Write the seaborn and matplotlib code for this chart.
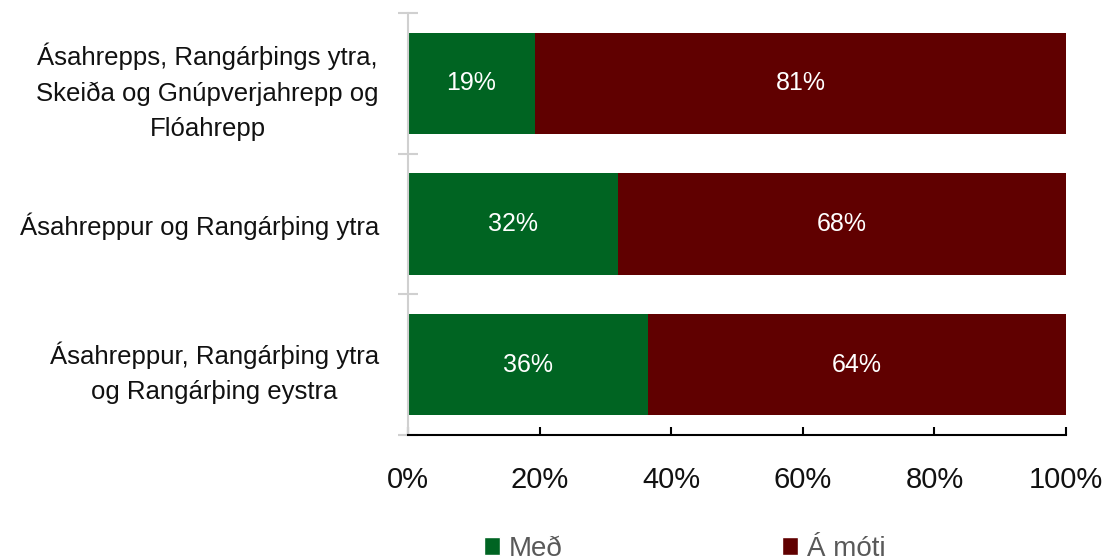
import matplotlib
matplotlib.use("Agg")
import matplotlib.pyplot as plt
import seaborn as sns
import pandas as pd
from matplotlib.ticker import FixedLocator, FuncFormatter
from matplotlib.patches import Patch

categories = [
    "Ásahrepps, Rangárþings ytra,\nSkeiða og Gnúpverjahrepp og\nFlóahrepp",
    "Ásahreppur og Rangárþing ytra",
    "Ásahreppur, Rangárþing ytra\nog Rangárþing eystra",
]
med = [19.3, 31.9, 36.4]
a_moti = [80.7, 68.1, 63.6]
med_labels = ["19%", "32%", "36%"]
moti_labels = ["81%", "68%", "64%"]
series_names = ["Með", "Á móti"]
x_ticks = [0, 20, 40, 60, 80, 100]

GREEN = "#006422"
RED = "#600000"

sns.set_theme(style="white")
plt.rcParams["font.family"] = ["Liberation Sans", "DejaVu Sans"]

df = pd.DataFrame({"cat": categories, "med": med, "moti": a_moti})
df["total"] = df["med"] + df["moti"]

fig = plt.figure(figsize=(11.04, 5.6), dpi=100)
ax = fig.add_axes([408 / 1104, 1 - 435 / 560, (1066 - 408) / 1104, (435 - 13) / 560])

sns.barplot(data=df, x="total", y="cat", orient="h", color=RED, width=0.72,
            saturation=1, ax=ax, linewidth=0)
sns.barplot(data=df, x="med", y="cat", orient="h", color=GREEN, width=0.72,
            saturation=1, ax=ax, linewidth=0)

for i in range(len(categories)):
    ax.text(med[i] / 2, i, med_labels[i], ha="center", va="center",
            color="white", fontsize=18)
    ax.text(med[i] + a_moti[i] / 2, i, moti_labels[i], ha="center", va="center",
            color="white", fontsize=18)

ax.set_xlim(0, 100)
ax.set_ylim(2.5, -0.5)
ax.set_xlabel("")
ax.set_ylabel("")
ax.xaxis.set_major_locator(FixedLocator(x_ticks))
ax.xaxis.set_major_formatter(FuncFormatter(lambda v, p: f"{int(v)}%"))
ax.tick_params(axis="x", bottom=True, direction="in", length=6, width=1.5,
               color="black", labelsize=21, pad=22, labelcolor="#111111")
ax.tick_params(axis="y", which="major", left=True, length=0, labelsize=18.5,
               pad=21, labelcolor="#111111")
ax.yaxis.set_minor_locator(FixedLocator([-0.5, 0.5, 1.5, 2.5]))
ax.tick_params(axis="y", which="minor", left=True, direction="inout", length=14,
               width=1.5, color="#d0d0d0")
for lbl in ax.get_yticklabels():
    lbl.set_ha("right")
    lbl.set_multialignment("center")
    lbl.set_linespacing(1.6)

for s in ["top", "right"]:
    ax.spines[s].set_visible(False)
ax.spines["left"].set_color("#d0d0d0")
ax.spines["left"].set_linewidth(1.5)
ax.spines["bottom"].set_color("black")
ax.spines["bottom"].set_linewidth(1.5)

handles = [Patch(facecolor=GREEN, label=series_names[0]),
           Patch(facecolor=RED, label=series_names[1])]
fig.legend(handles=handles, loc="center", bbox_to_anchor=(0.620, 0.02), ncol=2,
           frameon=False, fontsize=20, handlelength=0.6, handleheight=0.6,
           handletextpad=0.3, columnspacing=7.9, labelcolor="#595959")

fig.savefig("out.png", dpi=100)
